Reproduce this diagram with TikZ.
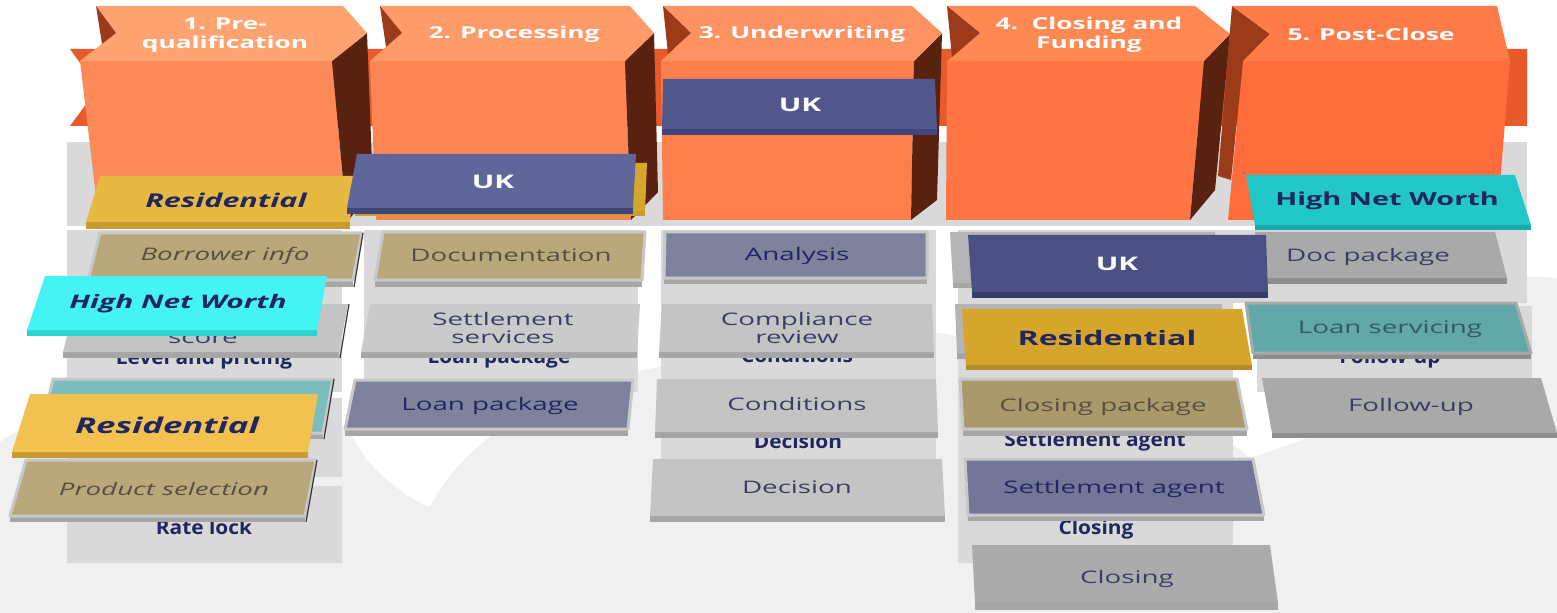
\documentclass[tikz,border=0pt]{standalone}
\usepackage{fontspec}
\setmainfont{Open Sans}
\newfontfamily\widefont[FakeStretch=1.6]{Open Sans}
\newfontfamily\narrowfont[FakeStretch=1.08]{Open Sans}

\definecolor{cloudgrey}{HTML}{F0F0F0}
\definecolor{bandorange}{HTML}{E95A2A}
\definecolor{panelgrey}{HTML}{D9D9D9}
\definecolor{frontA}{HTML}{FD8B59}
\definecolor{frontB}{HTML}{FE8654}
\definecolor{frontC}{HTML}{FF7F4C}
\definecolor{frontD}{HTML}{FF7644}
\definecolor{frontE}{HTML}{FF6C3B}
\definecolor{topA}{HTML}{FFA370}
\definecolor{topB}{HTML}{FF9B68}
\definecolor{topC}{HTML}{FF9262}
\definecolor{topD}{HTML}{FF8853}
\definecolor{topE}{HTML}{FF7C48}
\definecolor{sidebrown}{HTML}{582110}
\definecolor{notchbrown}{HTML}{9B3B19}
\definecolor{framegrey}{HTML}{C8C8C8}
\definecolor{greyA}{HTML}{C4C4C4}
\definecolor{greyB}{HTML}{B4B4B4}
\definecolor{greyC}{HTML}{A9A9A9}
\definecolor{stripA}{HTML}{A6A6A6}
\definecolor{stripC}{HTML}{8E8E8E}
\definecolor{tanA}{HTML}{B8A87B}
\definecolor{tanB}{HTML}{A9996B}
\definecolor{slateA}{HTML}{7F829D}
\definecolor{slateB}{HTML}{737696}
\definecolor{tealA}{HTML}{7CBDBD}
\definecolor{tealB}{HTML}{63A8A8}
\definecolor{goldA}{HTML}{E6BA42}
\definecolor{goldB}{HTML}{F1C250}
\definecolor{goldC}{HTML}{D6A62C}
\definecolor{goldstrip}{HTML}{C99A2E}
\definecolor{ukA}{HTML}{5F6699}
\definecolor{ukB}{HTML}{52588B}
\definecolor{ukC}{HTML}{4B5184}
\definecolor{ukstrip}{HTML}{41467A}
\definecolor{cyanA}{HTML}{46F3F3}
\definecolor{cyanAstrip}{HTML}{2CD3D3}
\definecolor{cyanB}{HTML}{22C8C8}
\definecolor{cyanBstrip}{HTML}{17AAAA}
\definecolor{navyink}{HTML}{1F275E}
\definecolor{greyink}{HTML}{3A3F62}
\definecolor{tanink}{HTML}{57503E}
\definecolor{tealink}{HTML}{2C5A6A}

\tikzset{
  tileframe/.style={fill=#1, draw=framegrey, line width=2.25pt, line join=round},
  tileedge/.style={draw=black!80, line width=0.9pt},
  titletext/.style={font=\widefont\bfseries\fontsize{12.3}{14.3}\selectfont, text=white, align=center, inner sep=0pt},
  tagtext/.style={font=\widefont\bfseries\fontsize{#1}{#1}\selectfont, text=navyink, inner sep=0pt},
  tagtext/.default=13.5,
  tagtextit/.style={font=\widefont\bfseries\itshape\fontsize{#1}{#1}\selectfont, text=navyink, inner sep=0pt},
  tagtextit/.default=14.3,
  uktext/.style={font=\widefont\bfseries\fontsize{14}{14}\selectfont, text=white, inner sep=0pt},
  tiletext/.style={font=\widefont\fontsize{13}{13.5}\selectfont, text=greyink, align=center, inner sep=0pt},
  tiletextit/.style={font=\widefont\itshape\fontsize{13}{13.5}\selectfont, text=tanink, inner sep=0pt},
  hiddentext/.style={font=\narrowfont\bfseries\fontsize{14.5}{14.5}\selectfont, text=navyink, anchor=base, inner sep=0pt}
}

\begin{document}
\begin{tikzpicture}[x=0.75pt,y=0.75pt,yscale=-1,xscale=1]
\useasboundingbox (0,0) rectangle (1557,613);

%Shape: Cloud backdrop
\fill[cloudgrey] (0,613) -- (0,442) .. controls (60,395) and (250,380) .. (330,415) .. controls (350,430) and (360,450) .. (367,460) .. controls (385,480) and (410,500) .. (430,507) .. controls (470,430) and (560,385) .. (660,367) .. controls (760,330) and (880,320) .. (950,335) .. controls (1100,370) and (1220,430) .. (1250,458) .. controls (1290,445) and (1315,435) .. (1330,430) .. controls (1400,300) and (1480,270) .. (1557,278) -- (1557,613) -- cycle ;

%Shape: Arrow band
\fill[bandorange] (70,49) -- (1527,49) -- (1527,126) -- (70,126) -- (98,88) -- cycle ;

%Shape: Grey panels behind the stages
\fill[panelgrey] (67,142) rectangle (1527,226) ;
\fill[panelgrey] (67,230) rectangle (342,392) ;
\fill[panelgrey] (67,398) rectangle (342,477) ;
\fill[panelgrey] (67,486) rectangle (342,563) ;
\fill[panelgrey] (364,230) rectangle (638,392) ;
\fill[panelgrey] (661,230) rectangle (936,465) ;
\fill[panelgrey] (958,230) rectangle (1233,563) ;
\fill[panelgrey] (1230,230) rectangle (1527,303) ;
\fill[panelgrey] (1257,306) rectangle (1532,392) ;

% Text Node
\draw (204,364) node [hiddentext] (levelpricing) {Level and pricing};
% Text Node
\draw (204,534) node [hiddentext] (ratelock) {Rate lock};
% Text Node
\draw (499,363) node [hiddentext] (loanpkgback) {Loan package};
% Text Node
\draw (797,362) node [hiddentext] (conditionsback) {Conditions};
% Text Node
\draw (798,448) node [hiddentext] (decisionback) {Decision};
% Text Node
\draw (1095,446) node [hiddentext] (agentback) {Settlement agent};
% Text Node
\draw (1096,534) node [hiddentext] (closingback) {Closing};
% Text Node
\draw (1390,363) node [hiddentext] (followback) {Follow-up};

%Shape: Stage 1 box
\fill[frontA] (80,61) -- (332,61) -- (347,222) -- (99,222) -- cycle ;
\fill[sidebrown] (332,61) -- (367,33) -- (373,190) -- (347,222) -- cycle ;
\fill[topA] (96,6) -- (343,6) -- (367,33) -- (332,61) -- (80,61) -- (116,33) -- cycle ;
\fill[notchbrown] (96,6) -- (116,33) -- (102,44) -- cycle ;
%Shape: Stage 2 box
\fill[frontB] (370,61) -- (625,61) -- (631,220) -- (376,220) -- cycle ;
\fill[sidebrown] (625,61) -- (654,33) -- (658,192) -- (631,220) -- cycle ;
\fill[topB] (380,6) -- (630,6) -- (654,33) -- (625,61) -- (370,61) -- (402,33) -- cycle ;
\fill[notchbrown] (380,6) -- (402,33) -- (386,47) -- cycle ;
%Shape: Stage 3 box
\fill[frontC] (661,61) -- (914,61) -- (911,220) -- (663,220) -- cycle ;
\fill[sidebrown] (914,61) -- (942,33) -- (937,200) -- (911,220) -- cycle ;
\fill[topC] (663,6) -- (912,6) -- (942,33) -- (914,61) -- (661,61) -- (691,33) -- cycle ;
\fill[notchbrown] (663,6) -- (691,33) -- (668,54) -- cycle ;
%Shape: Stage 4 box
\fill[frontD] (947,61) -- (1204,61) -- (1190,220) -- (946,220) -- cycle ;
\fill[sidebrown] (1204,61) -- (1230,34) -- (1215,190) -- (1190,220) -- cycle ;
\fill[topD] (947,6) -- (1195,6) -- (1230,34) -- (1204,61) -- (947,61) -- (980,33) -- cycle ;
\fill[notchbrown] (947,6) -- (980,33) -- (952,57) -- cycle ;
%Shape: Stage 5 box
\fill[frontE] (1243,61) -- (1510,61) -- (1497,220) -- (1228,220) -- cycle ;
\fill[notchbrown] (1232,6) -- (1270,34) -- (1243,61) -- (1231,180) -- (1218,176) -- cycle ;
\fill[topE] (1232,6) -- (1497,6) -- (1510,61) -- (1243,61) -- (1270,34) -- cycle ;

% Text Node
\draw (225,35) node [titletext] (stageA) {1. Pre-\\qualification};
% Text Node
\draw (514,34) node [titletext] (stageB) {2. Processing};
% Text Node
\draw (802,34) node [titletext] (stageC) {3. Underwriting};
% Text Node
\draw (1089,35) node [titletext] (stageD) {4.\ \ Closing and\\Funding};
% Text Node
\draw (1371,34) node [titletext] (stageE) {5. Post-Close};

%Shape: Tile [id:borrower]
\fill[stripA] (88,280) -- (353,280) -- (353,287) -- (88,287) -- cycle ;
\filldraw[tileframe=tanA] (100,233) -- (362,233) -- (353,280) -- (88,280) -- cycle ;
\draw[tileedge] (363,233) -- (354,287) ;
% Text Node
\draw (225,256) node [tiletextit] (borrower) {Borrower info};

%Shape: Tile [id:score]
\fill[stripA] (63,352) -- (339,352) -- (339,358) -- (63,358) -- cycle ;
\fill[greyA] (75,304) -- (348,304) -- (339,352) -- (63,352) -- cycle ;
\draw[tileedge] (349,304) -- (340,358) ;
% Text Node
\draw (203,343) node [tiletext, anchor=base] (score) {score};

%Shape: Tag [id:hnwA]
\fill[cyanAstrip] (27,330) -- (317,330) -- (317,336) -- (27,336) -- cycle ;
\fill[cyanA] (45,276) -- (327,276) -- (317,330) -- (27,330) -- cycle ;
% Text Node
\draw (178,304) node [tagtextit=14] (hnwA) {High Net Worth};

%Shape: Tile [id:tealA]
\fill[stripA] (40,433) -- (323,433) -- (323,439) -- (40,439) -- cycle ;
\filldraw[tileframe=tealA] (53,379) -- (333,379) -- (323,433) -- (40,433) -- cycle ;
\draw[tileedge] (334,379) -- (324,439) ;

%Shape: Tile [id:product]
\fill[stripA] (10,516) -- (305,516) -- (305,522) -- (10,522) -- cycle ;
\filldraw[tileframe=tanA] (26,460) -- (316,460) -- (305,516) -- (10,516) -- cycle ;
\draw[tileedge] (317,460) -- (306,522) ;
% Text Node
\draw (164,489) node [tiletextit] (product) {Product selection};

%Shape: Tag [id:resB]
\fill[goldstrip] (12,452) -- (308,452) -- (308,458) -- (12,458) -- cycle ;
\fill[goldB] (30,394) -- (318,394) -- (308,452) -- (12,452) -- cycle ;
% Text Node
\draw (167,425) node [tagtextit=16.3] (resB) {Residential};

%Shape: Tag [id:resA]
\fill[goldstrip] (86,222) -- (350,222) -- (350,229) -- (86,229) -- cycle ;
\fill[goldA] (100,176) -- (354,176) -- (350,222) -- (86,222) -- cycle ;
% Text Node
\draw (226,200) node [tagtextit] (resA) {Residential};

%Shape: Tile [id:documentation]
\fill[stripA] (375,280) -- (642,280) -- (642,287) -- (375,287) -- cycle ;
\filldraw[tileframe=tanA] (383,232) -- (645,232) -- (642,280) -- (375,280) -- cycle ;
% Text Node
\draw (511,255) node [tiletext, text=tanink] (documentation) {Documentation};

%Shape: Tile [id:settlement]
\fill[stripA] (361,352) -- (637,352) -- (637,358) -- (361,358) -- cycle ;
\fill[greyA!90!white] (370,304) -- (640,304) -- (637,352) -- (361,352) -- cycle ;
% Text Node
\draw (503,328) node [tiletext] (settlement) {Settlement\\services};

%Shape: Tile [id:loanpkg]
\fill[stripA] (345,429) -- (628,429) -- (628,436) -- (345,436) -- cycle ;
\filldraw[tileframe=slateA] (355,380) -- (633,380) -- (628,429) -- (345,429) -- cycle ;
% Text Node
\draw (490,406) node [tiletext, text=navyink] (loanpkg) {Loan package};

%Shape: Tag [id:resbehind]
\fill[goldstrip] (355,211) -- (645,211) -- (645,216) -- (355,216) -- cycle ;
\fill[goldC] (360,163) -- (647,163) -- (645,211) -- (355,211) -- cycle ;

%Shape: Tag [id:ukA]
\fill[ukstrip] (347,208) -- (633,208) -- (633,214) -- (347,214) -- cycle ;
\fill[ukA] (357,154) -- (636,154) -- (633,208) -- (347,208) -- cycle ;
% Text Node
\draw (493,182) node [uktext] (ukA) {UK};

%Shape: Tag [id:ukB]
\fill[ukstrip] (662,129) -- (937,129) -- (937,135) -- (662,135) -- cycle ;
\fill[ukB] (663,79) -- (935,79) -- (937,129) -- (662,129) -- cycle ;
% Text Node
\draw (800,105) node [uktext] (ukB) {UK};

%Shape: Tile [id:analysis]
\fill[stripA] (664,278) -- (927,278) -- (927,284) -- (664,284) -- cycle ;
\filldraw[tileframe=slateA] (665,232) -- (927,232) -- (927,278) -- (664,278) -- cycle ;
% Text Node
\draw (797,256) node [tiletext, text=navyink] (analysis) {Analysis};

%Shape: Tile [id:compliance]
\fill[stripA] (659,352) -- (934,352) -- (934,358) -- (659,358) -- cycle ;
\fill[greyA] (662,304) -- (932,304) -- (934,352) -- (659,352) -- cycle ;
% Text Node
\draw (797,328) node [tiletext] (compliance) {Compliance\\review};

%Shape: Tile [id:conditions]
\fill[stripA] (655,432) -- (938,432) -- (938,438) -- (655,438) -- cycle ;
\fill[greyA] (657,379) -- (936,379) -- (938,432) -- (655,432) -- cycle ;
% Text Node
\draw (797,404) node [tiletext] (conditions) {Conditions};

%Shape: Tile [id:decision]
\fill[stripA] (650,516) -- (945,516) -- (945,522) -- (650,522) -- cycle ;
\fill[greyA] (653,459) -- (942,459) -- (945,516) -- (650,516) -- cycle ;
% Text Node
\draw (797,487) node [tiletext] (decision) {Decision};

%Shape: Tile [id:docpkg]
\fill[stripC] (1259,278) -- (1507,278) -- (1507,284) -- (1259,284) -- cycle ;
\fill[greyC] (1255,232) -- (1495,232) -- (1507,278) -- (1259,278) -- cycle ;
% Text Node
\draw (1368,257) node [tiletext] (docpkg) {Doc package};

%Shape: Tile [id:loanserv]
\fill[stripC] (1253,353) -- (1531,353) -- (1531,359) -- (1253,359) -- cycle ;
\filldraw[tileframe=tealB, draw=greyC] (1246,303) -- (1516,303) -- (1531,353) -- (1253,353) -- cycle ;
% Text Node
\draw (1390,329) node [tiletext, text=tealink] (loanserv) {Loan servicing};

%Shape: Tile [id:followup]
\fill[stripC] (1272,433) -- (1557,433) -- (1557,438) -- (1272,438) -- cycle ;
\fill[greyC] (1262,378) -- (1541,378) -- (1557,433) -- (1272,433) -- cycle ;
% Text Node
\draw (1411,407) node [tiletext] (followup) {Follow-up};

%Shape: Tag [id:hnwB]
\fill[cyanBstrip] (1255,225) -- (1531,225) -- (1531,230) -- (1255,230) -- cycle ;
\fill[cyanB] (1246,175) -- (1515,175) -- (1531,225) -- (1255,225) -- cycle ;
% Text Node
\draw (1387,201) node [tagtext] (hnwB) {High Net Worth};

%Shape: Tile [id:rowA]
\fill[stripA] (953,283) -- (1218,283) -- (1218,288) -- (953,288) -- cycle ;
\fill[greyB] (950,232) -- (1215,232) -- (1218,283) -- (953,283) -- cycle ;

%Shape: Tag [id:ukC]
\fill[ukstrip!85!black] (972,292) -- (1268,292) -- (1268,298) -- (972,298) -- cycle ;
\fill[ukC] (968,235) -- (1266,235) -- (1268,292) -- (972,292) -- cycle ;
% Text Node
\draw (1117,264) node [uktext] (ukC) {UK};

%Shape: Tile [id:rowB]
\fill[stripA] (957,353) -- (1225,353) -- (1225,359) -- (957,359) -- cycle ;
\fill[greyB] (955,304) -- (1222,304) -- (1225,353) -- (957,353) -- cycle ;

%Shape: Tag [id:resC]
\fill[goldstrip!90!black] (966,365) -- (1252,365) -- (1252,370) -- (966,370) -- cycle ;
\fill[goldC] (962,309) -- (1242,309) -- (1252,365) -- (966,365) -- cycle ;
% Text Node
\draw (1107,338) node [tagtext=15] (resC) {Residential};

%Shape: Tile [id:closingpkg]
\fill[stripA] (963,429) -- (1247,429) -- (1247,436) -- (963,436) -- cycle ;
\filldraw[tileframe=tanB] (960,379) -- (1237,379) -- (1247,429) -- (963,429) -- cycle ;
% Text Node
\draw (1103,407) node [tiletext, text=tanink] (closingpkg) {Closing package};

%Shape: Tile [id:agent]
\fill[stripA] (968,515) -- (1264,515) -- (1264,521) -- (968,521) -- cycle ;
\filldraw[tileframe=slateB] (965,459) -- (1253,459) -- (1264,515) -- (968,515) -- cycle ;
% Text Node
\draw (1114,489) node [tiletext, text=navyink] (agent) {Settlement agent};

%Shape: Tile [id:closing]
\fill[stripA] (975,603) -- (1278,603) -- (1278,610) -- (975,610) -- cycle ;
\fill[greyB!95!black] (972,545) -- (1270,545) -- (1278,603) -- (975,603) -- cycle ;
% Text Node
\draw (1127,579) node [tiletext] (closing) {Closing};

\end{tikzpicture}
\end{document}
